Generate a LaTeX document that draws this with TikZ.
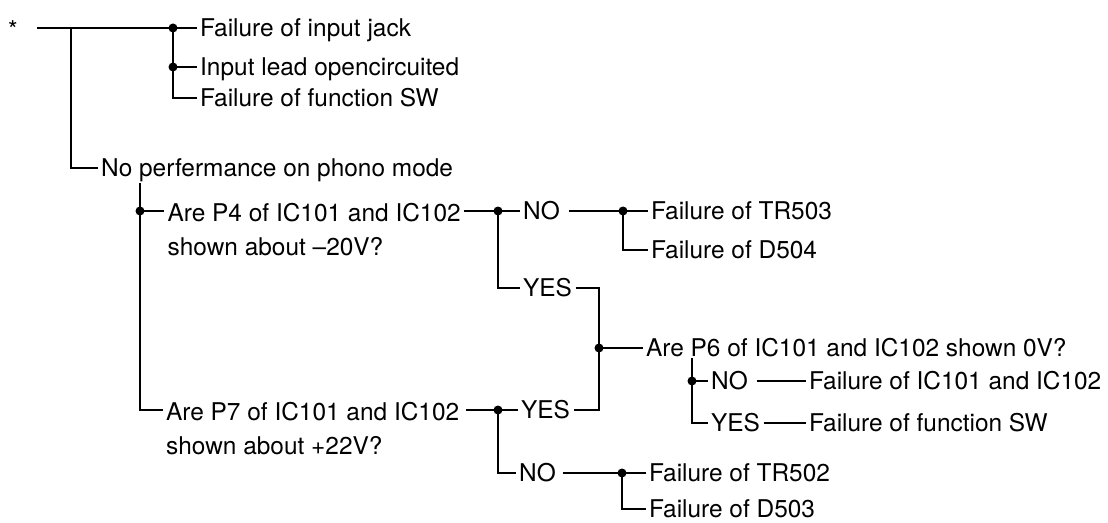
\documentclass[tikz,border=0pt]{standalone}
\usepackage{fontspec}
\setmainfont{TeX Gyre Heros}
\begin{document}
\begin{tikzpicture}[line width=0.04cm,
                        lbl/.style={anchor=base west, inner xsep=1.5pt, inner ysep=0pt},
                        qlbl/.style={anchor=north west, inner xsep=1.5pt, inner ysep=0pt, align=left}]
                        \useasboundingbox (0,0) rectangle (22.16,10.44);
                        {\fontsize{13.9}{19.5}\selectfont

                        % Marking point *
                        \node (star) at (0.26,9.66) [anchor=base, font=\fontsize{14}{16}\selectfont] {*};%

                        % Junctions and corners
                        \coordinate (r0) at (0.74,9.88);%
                        \coordinate (b0) at (1.42,9.88);%
                        \coordinate (c0) at (1.42,7.08);%
                        \coordinate (j1) at (3.46,9.88);%
                        \coordinate (j1b) at (3.46,9.10);%
                        \coordinate (c1) at (3.46,8.48);%
                        \coordinate (j2) at (2.80,6.22);%
                        \coordinate (c2) at (2.80,2.24);%
                        \coordinate (j3) at (9.96,6.22);%
                        \coordinate (c3) at (9.96,4.68);%
                        \coordinate (j4) at (12.46,6.22);%
                        \coordinate (c4) at (12.46,5.44);%
                        \coordinate (c5) at (11.98,4.68);%
                        \coordinate (j5) at (11.98,3.48);%
                        \coordinate (d5) at (11.98,2.24);%
                        \coordinate (j6) at (9.96,2.24);%
                        \coordinate (c6) at (9.96,0.98);%
                        \coordinate (j7) at (12.44,0.98);%
                        \coordinate (c7) at (12.44,0.26);%
                        \coordinate (j8) at (13.84,2.82);%
                        \coordinate (c8) at (13.84,1.98);%

                        % Marking failures of the input
                        \node (jack) at (3.93,9.704) [lbl] {Failure of input jack};%
                        \node (lead) at (3.93,8.924) [lbl] {Input lead opencircuited};%
                        \node (fsw) at (3.93,8.304) [lbl] {Failure of function SW};%
                        \node (phono) at (1.95,6.904) [lbl] {No perfermance on phono mode};%

                        % Marking question P4
                        \node (pfour) at (3.28,6.40) [qlbl] {Are P4 of IC101 and IC102\\shown about --20V?};%
                        \node (noa) at (10.39,6.044) [lbl] {NO};%
                        \node (trthree) at (12.95,6.044) [lbl] {Failure of TR503};%
                        \node (dfour) at (12.95,5.264) [lbl] {Failure of D504};%
                        \node (yesa) at (10.39,4.504) [lbl] {YES};%

                        % Marking question P6
                        \node (psix) at (12.85,3.304) [lbl] {Are P6 of IC101 and IC102 shown 0V?};%
                        \node (nob) at (14.15,2.644) [lbl] {NO};%
                        \node (fic) at (16.11,2.644) [lbl] {Failure of IC101 and IC102};%
                        \node (yesb) at (14.15,1.804) [lbl] {YES};%
                        \node (fswb) at (16.11,1.804) [lbl] {Failure of function SW};%

                        % Marking question P7
                        \node (pseven) at (3.25,2.42) [qlbl] {Are P7 of IC101 and IC102\\shown about +22V?};%
                        \node (yesc) at (10.35,2.064) [lbl] {YES};%
                        \node (noc) at (10.31,0.804) [lbl] {NO};%
                        \node (trtwo) at (12.91,0.804) [lbl] {Failure of TR502};%
                        \node (dthree) at (12.91,0.084) [lbl] {Failure of D503};%

                        % Drawing the top branches
                        \draw (r0) -- (j1) -- (j1 -| jack.west);%
                        \draw (j1) -- (c1) -- (c1 -| fsw.west);%
                        \draw (j1b) -- (j1b -| lead.west);%
                        \draw (b0) -- (c0) -- (c0 -| phono.west);%

                        % Drawing the phono branches
                        \draw (j2 |- phono.south) -- (c2) -- (c2 -| pseven.west);%
                        \draw (j2) -- (j2 -| pfour.west);%
                        \draw (pfour.east |- j3) -- (j3) -- (j3 -| noa.west);%
                        \draw (j3) -- (c3) -- (c3 -| yesa.west);%
                        \draw ([xshift=3pt]noa.east |- j4) -- (j4) -- (j4 -| trthree.west);%
                        \draw (j4) -- (c4) -- (c4 -| dfour.west);%
                        \draw (yesa.east |- c5) -- (c5) -- (d5) -- (d5 -| yesc.east);%
                        \draw (j5) -- (j5 -| psix.west);%
                        \draw (j8 |- psix.south) -- (c8) -- (c8 -| yesb.west);%
                        \draw (j8) -- (j8 -| nob.west);%
                        \draw ([xshift=3pt]nob.east |- j8) -- (j8 -| fic.west);%
                        \draw (yesb.east |- c8) -- (c8 -| fswb.west);%
                        \draw ([xshift=2pt]pseven.east |- j6) -- (j6) -- (j6 -| yesc.west);%
                        \draw (j6) -- (c6) -- (c6 -| noc.west);%
                        \draw ([xshift=2pt]noc.east |- j7) -- (j7) -- (j7 -| trtwo.west);%
                        \draw (j7) -- (c7) -- (c7 -| dthree.west);%

                        % Drawing the dots
                        \fill (j1) circle (0.09) (j1b) circle (0.09) (j2) circle (0.09)
                              (j3) circle (0.09) (j4) circle (0.09) (j5) circle (0.09)
                              (j6) circle (0.09) (j7) circle (0.09) (j8) circle (0.09);%
                        }
\end{tikzpicture}
\end{document}
